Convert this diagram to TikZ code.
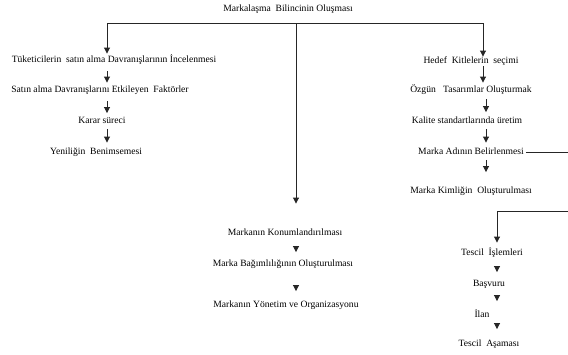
\documentclass[tikz,border=0pt]{standalone}
\usepackage{fontspec}
\setmainfont{Liberation Serif}
\usetikzlibrary{arrows.meta}
\begin{document}
\begin{tikzpicture}[x=1pt,y=-1pt,
  lbl/.style={inner sep=0pt, font=\fontsize{9.6}{11}\selectfont, text height=6.5pt, text depth=2pt},
  ln/.style={line width=0.9pt, draw=black!85},
  arr/.style={ln, -{Triangle[width=6pt,length=6pt]}}]
\useasboundingbox (0,0) rectangle (568,354);
% title
\node[lbl] (title) at (288,9) {Markalaşma\ \ Bilincinin Oluşması};
% left column
\node[lbl] (l1) at (114,60) {Tüketicilerin\ \ satın alma Davranışlarının İncelenmesi};
\node[lbl] (l2) at (100,90) {Satın alma Davranışlarını Etkileyen\ \ Faktörler};
\node[lbl] (l3) at (102,121) {Karar süreci};
\node[lbl] (l4) at (96,152) {Yeniliğin\ \ Benimsemesi};
% middle column
\node[lbl] (m1) at (285,233) {Markanın Konumlandırılması};
\node[lbl] (m2) at (283,264) {Marka Bağımlılığının Oluşturulması};
\node[lbl] (m3) at (286,305) {Markanın Yönetim ve Organizasyonu};
% right column
\node[lbl] (r1) at (471,61) {Hedef\ \ Kitlelerin\ \ seçimi};
\node[lbl] (r2) at (471,90) {Özgün\ \ \ Tasarımlar Oluşturmak};
\node[lbl] (r3) at (467,121) {Kalite standartlarında üretim};
\node[lbl] (r4) at (471,152) {Marka Adının Belirlenmesi};
\node[lbl] (r5) at (471,191) {Marka Kimliğin\ \ Oluşturulması};
% registration column
\node[lbl] (s1) at (492,253) {Tescil\ \ İşlemleri};
\node[lbl] (s2) at (489,284) {Başvuru};
\node[lbl] (s3) at (482,315) {İlan};
\node[lbl] (s4) at (489,344) {Tescil\ \ Aşaması};
% junction coordinates
\coordinate (hl) at (107,23);
\coordinate (hm) at (296,23);
\coordinate (hr) at (483,23);
\coordinate (xl) at (107,0);
\coordinate (xr) at (486,0);
\coordinate (xm) at (296,0);
\coordinate (xs) at (497,0);
\coordinate (e1) at (568,152);
\coordinate (e2) at (568,211);
\coordinate (c2) at (497,211);
% top bar
\draw[ln] (hl) -- (hr);
\draw[arr, shorten >=2pt] (hl) -- (hl |- l1.north);
\draw[arr, shorten >=25pt] (hm) -- (hm |- m1.north);
\draw[arr, shorten >=0pt] (hr) -- (hr |- r1.north);
% left chain
\draw[arr, shorten <=7pt, shorten >=3pt] (l1.south -| xl) -- (l2.north -| xl);
\draw[arr, shorten <=7pt, shorten >=3.5pt] (l2.south -| xl) -- (l3.north -| xl);
\draw[arr, shorten <=4pt, shorten >=5pt] (l3.south -| xl) -- (l4.north -| xl);
% right chain
\draw[arr, shorten <=1pt, shorten >=3pt] (r1.south -| hr) -- (r2.north -| hr);
\draw[arr, shorten <=5pt, shorten >=4.5pt] (r2.south -| xr) -- (r3.north -| xr);
\draw[arr, shorten <=4pt, shorten >=5pt] (r3.south -| xr) -- (r4.north -| xr);
\draw[arr, shorten <=3.5pt, shorten >=14.5pt] (r4.south -| xr) -- (r5.north -| xr);
% middle chain
\draw[arr, shorten <=8.5pt, shorten >=7.5pt] (m1.south -| xm) -- (m2.north -| xm);
\draw[arr, shorten <=16.5pt, shorten >=9.5pt] (m2.south -| xm) -- (m3.north -| xm);
% registration link
\draw[ln, shorten <=2pt] (r4.east) -- (e1);
\draw[ln] (e2) -- (c2);
\draw[arr, shorten >=6pt] (c2) -- (c2 |- s1.north);
\draw[arr, shorten <=9.5pt, shorten >=7.5pt] (s1.south -| xs) -- (s2.north -| xs);
\draw[arr, shorten <=6.5pt, shorten >=9.5pt] (s2.south -| xs) -- (s3.north -| xs);
\draw[arr, shorten <=3.5pt, shorten >=10.5pt] (s3.south -| xs) -- (s4.north -| xs);
\end{tikzpicture}
\end{document}
